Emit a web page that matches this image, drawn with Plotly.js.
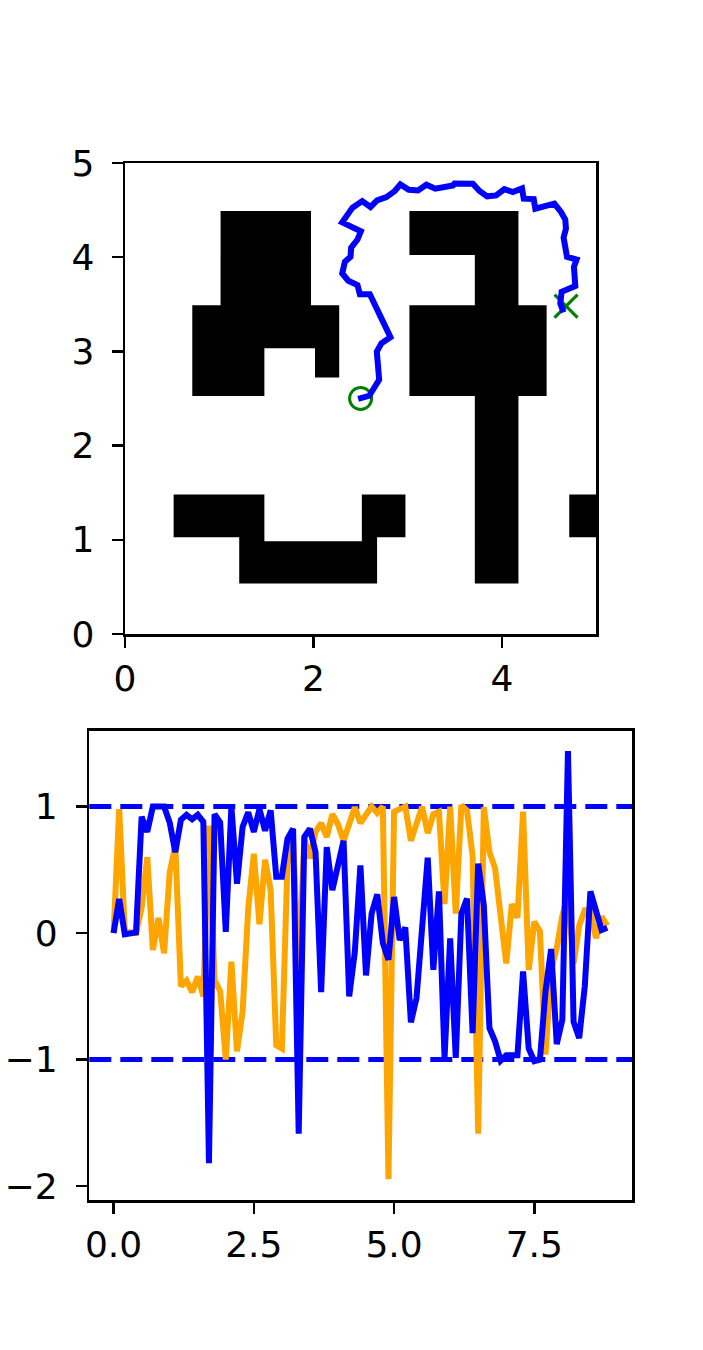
<!DOCTYPE html>
<html><head><meta charset="utf-8">
<script src="https://cdn.plot.ly/plotly-3.0.1.min.js"></script>
<style>html,body{margin:0;padding:0;background:#fff}</style></head>
<body><div id="chart" style="width:703px;height:1350px"></div>
<script>
// Top panel: obstacles [left, right, bottom, top]
const obstacleLeft   = [1.014,0.714,0.714,2.016,3.018,3.712,3.018,3.712,0.516,1.212,1.212,2.513,2.513,4.714];
const obstacleRight  = [1.974,2.273,1.479,2.273,4.175,4.175,4.474,4.175,1.479,1.479,2.675,2.976,2.675,5.000];
const obstacleBottom = [3.489,3.034,2.526,2.723,4.024,3.489,2.526,0.537,1.026,0.537,0.537,1.026,0.984,1.026];
const obstacleTop    = [4.490,3.489,3.034,3.034,4.490,4.024,3.489,2.526,1.481,1.026,0.984,1.481,1.026,1.481];

const pathX = [2.474,2.591,2.697,2.679,2.672,2.721,2.817,2.721,2.651,2.598,2.492,2.467,2.369,2.305,2.333,2.393,2.400,2.467,2.503,2.305,2.414,2.517,2.605,2.675,2.774,2.862,2.922,3.011,3.109,3.198,3.293,3.480,3.497,3.691,3.762,3.843,3.938,4.026,4.115,4.213,4.231,4.337,4.354,4.556,4.626,4.672,4.679,4.654,4.690,4.792,4.764,4.778,4.633,4.619,4.654];
const pathY = [2.497,2.529,2.698,2.875,2.998,3.086,3.150,3.351,3.492,3.608,3.608,3.704,3.750,3.827,3.951,4.004,4.102,4.187,4.275,4.370,4.526,4.596,4.533,4.603,4.638,4.702,4.772,4.716,4.709,4.769,4.727,4.762,4.783,4.780,4.702,4.646,4.656,4.723,4.691,4.730,4.621,4.617,4.515,4.568,4.480,4.399,4.303,4.208,4.004,3.975,3.898,3.693,3.633,3.510,3.414];
const startPoint = [2.5, 2.5];
const goalPoint  = [4.68, 3.48];

// Bottom panel
const timeStep = [0,0.1,0.2,0.3,0.4,0.5,0.6,0.7,0.8,0.9,1,1.1,1.2,1.3,1.4,1.5,1.6,1.7,1.8,1.9,2,2.1,2.2,2.3,2.4,2.5,2.6,2.7,2.8,2.9,3,3.1,3.2,3.3,3.4,3.5,3.6,3.7,3.8,3.9,4,4.1,4.2,4.3,4.4,4.5,4.6,4.7,4.8,4.9,5,5.1,5.2,5.3,5.4,5.5,5.6,5.7,5.8,5.9,6,6.1,6.2,6.3,6.4,6.5,6.6,6.7,6.8,6.9,7,7.1,7.2,7.3,7.4,7.5,7.6,7.7,7.8,7.9,8,8.1,8.2,8.3,8.4,8.5,8.6,8.7,8.8];
const orangeValues = [0,0.98,0.01,0,0,0.2,0.60,-0.134,0.12,-0.16,0.48,0.69,-0.42,-0.375,-0.467,-0.344,-0.50,0.85,-0.37,-0.46,-1.0,-0.226,-0.934,-0.62,0.194,0.627,0.07,0.58,0.34,-0.887,-0.913,0.55,0.75,-0.35,0.75,0.59,0.80,0.87,0.76,0.94,0.86,0.73,0.875,0.995,0.87,0.94,1.0,0.95,1.0,-1.945,0.96,0.98,1.0,0.73,0.85,1.0,0.79,0.94,0.96,0.23,1.0,0.155,1.01,0.97,0.61,-1.585,0.995,0.64,0.514,0.14,-0.24,0.23,0.12,0.96,-0.29,0.09,0.016,-0.96,-0.29,-0.12,0.14,0.3,-0.24,0.06,0.18,0.18,-0.04,0.13,0.06];
const blueValues = [0,0.27,-0.01,0,0.005,0.92,0.80,1.0,1.0,1.0,0.875,0.64,0.895,0.935,0.90,0.935,0.88,-1.82,0.94,0.875,0.01,1.0,0.39,0.84,0.955,0.80,0.98,0.81,0.97,0.445,0.445,0.745,0.825,-1.585,0.76,0.825,0.64,-0.467,0.68,0.34,0.535,0.73,-0.50,-0.15,0.535,-0.335,0.155,0.307,-0.08,-0.21,0.286,-0.055,0.045,-0.706,-0.514,0.115,0.596,-0.29,0.33,-0.987,-0.042,-0.987,0.155,0.273,-0.79,0.549,0.22,-0.75,-0.855,-1.008,-0.966,-0.966,-0.966,-0.304,-0.913,-1.013,-1.0,-0.46,-0.126,-0.877,-0.685,1.44,-0.70,-0.83,-0.42,0.33,0.195,0.024,0.042];
const limitLevels = [1, -1];

const topTicks = [0,1,2,3,4,5];
const topXTicks = [0,2,4];
const bottomXTicks = [0,2.5,5,7.5];
const bottomXLabels = ['0.0','2.5','5.0','7.5'];
const bottomYTicks = [-2,-1,0,1];

const W = 703, H = 1350;
const obsX = [], obsY = [];
obstacleLeft.forEach((l,i)=>{
  const r=obstacleRight[i], b=obstacleBottom[i], t=obstacleTop[i];
  obsX.push(l,r,r,l,l,null); obsY.push(b,b,t,t,b,null);
});
const BLUE='#0000ff', ORANGE='#ffa500', GREEN='#008000';
const traces = [
  {x:obsX,y:obsY,xaxis:'x',yaxis:'y',mode:'lines',fill:'toself',fillcolor:'#000',line:{width:0,color:'#000'},hoverinfo:'skip'},
  {x:[startPoint[0]],y:[startPoint[1]],xaxis:'x',yaxis:'y',mode:'markers',marker:{symbol:'circle-open',size:22,color:GREEN,line:{width:3,color:GREEN}}},
  {x:[goalPoint[0]],y:[goalPoint[1]],xaxis:'x',yaxis:'y',mode:'markers',marker:{symbol:'x-thin-open',size:23,color:GREEN,line:{width:3.2,color:GREEN}}},
  {x:pathX,y:pathY,xaxis:'x',yaxis:'y',mode:'lines',line:{color:BLUE,width:6}},
  {x:timeStep,y:orangeValues,xaxis:'x2',yaxis:'y2',mode:'lines',line:{color:ORANGE,width:6}},
  {x:timeStep,y:blueValues,xaxis:'x2',yaxis:'y2',mode:'lines',line:{color:BLUE,width:6}}
];
const axisBase = {showgrid:false,zeroline:false,showline:true,mirror:true,linecolor:'#000',linewidth:2.5,ticks:'outside',ticklen:11,tickwidth:2.5,tickcolor:'#000',tickfont:{family:'DejaVu Sans',size:36,color:'#000'},fixedrange:true};
const layout = {
  width:W,height:H,margin:{l:0,r:0,t:0,b:0},paper_bgcolor:'#fff',plot_bgcolor:'#fff',showlegend:false,
  xaxis:{...axisBase,domain:[125/W,596.2/W],range:[0,5],tickvals:topXTicks,ticktext:topXTicks.map(String),anchor:'y'},
  yaxis:{...axisBase,domain:[1-634/H,1-163/H],range:[0,5],tickvals:topTicks,ticktext:topTicks.map(String),anchor:'x',ticklabelstandoff:10},
  xaxis2:{...axisBase,domain:[89.3/W,632.3/W],range:[-0.433,9.247],tickvals:bottomXTicks,ticktext:bottomXLabels,anchor:'y2'},
  yaxis2:{...axisBase,domain:[1-1200/H,1-730.7/H],range:[-2.11,1.60],tickvals:bottomYTicks,anchor:'x2',ticklabelstandoff:11},
  shapes:limitLevels.map(v=>({type:'line',layer:'below',xref:'x2 domain',yref:'y2',x0:0,x1:1,y0:v,y1:v,line:{color:BLUE,width:5,dash:'22px,9px'}}))
};
Plotly.newPlot('chart',traces,layout,{displayModeBar:false,staticPlot:true});
</script></body></html>
